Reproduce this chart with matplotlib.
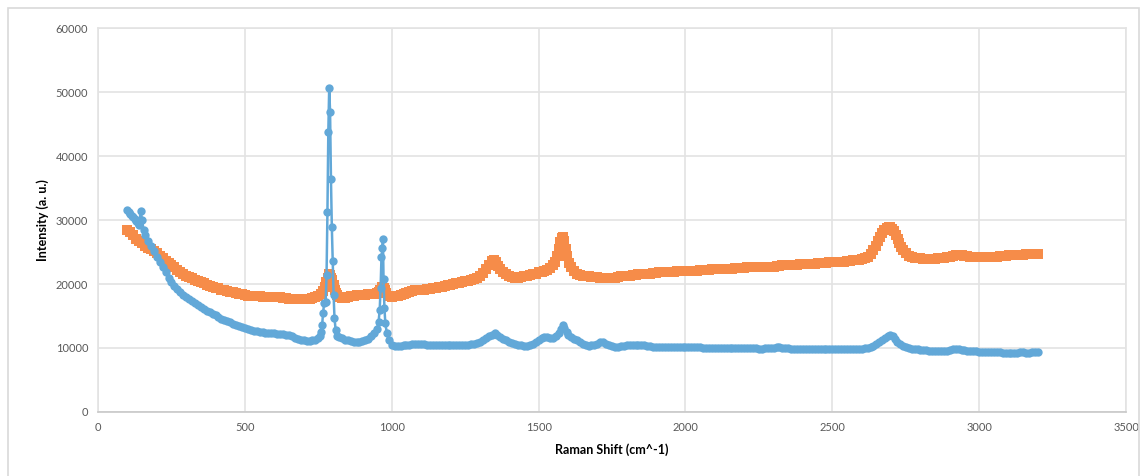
import matplotlib
matplotlib.use("Agg")
import matplotlib.pyplot as plt
from matplotlib.patches import Rectangle

plt.rcParams['font.family'] = ['Lato', 'DejaVu Sans']

# blue spectrum, (Raman shift, intensity)
blue_points = [
    (100, 31500), (105, 31200), (110, 31000), (115, 30700), (120, 30400), (125, 30100),
    (130, 29800), (135, 29500), (140, 29200), (145, 31400), (150, 30000), (155, 28400),
    (160, 27600), (170, 26800), (180, 25900), (190, 25100), (200, 24300), (210, 23400),
    (220, 22600), (230, 21800), (240, 21000), (250, 20300), (260, 19700), (270, 19200),
    (280, 18700), (290, 18300), (300, 18000), (310, 17600), (320, 17300), (330, 17000),
    (340, 16700), (350, 16400), (360, 16100), (370, 15800), (380, 15600), (390, 15300),
    (400, 15100), (410, 14800), (420, 14600), (430, 14400), (440, 14200), (450, 14000),
    (460, 13800), (470, 13600), (480, 13500), (490, 13300), (500, 13100), (510, 12900),
    (520, 12800), (530, 12700), (540, 12600), (550, 12500), (560, 12500), (570, 12400),
    (580, 12400), (590, 12300), (600, 12300), (610, 12200), (620, 12200), (630, 12200),
    (640, 12100), (650, 12000), (660, 11800), (670, 11600), (680, 11400), (690, 11300),
    (700, 11200), (710, 11100), (720, 11100), (730, 11200), (740, 11300), (750, 11500),
    (755, 11800), (760, 12500), (763, 13600), (766, 15400), (770, 17100), (775, 17200),
    (778, 21400), (781, 31200), (784, 43700), (787, 50700), (790, 46900), (793, 36400),
    (796, 28900), (799, 23600), (802, 18300), (805, 14700), (809, 12800), (815, 11900),
    (820, 11700), (830, 11500), (840, 11300), (850, 11200), (860, 11100), (870, 11000),
    (880, 11000), (890, 11000), (900, 11100), (910, 11200), (920, 11400), (930, 11800),
    (940, 12300), (950, 13000), (955, 14000), (959, 16000), (962, 19400), (965, 24200),
    (968, 25600), (970, 27100), (972, 20800), (975, 16300), (978, 13900), (983, 12400),
    (990, 11200), (1000, 10500), (1010, 10300), (1020, 10300), (1030, 10300), (1040, 10400),
    (1050, 10400), (1060, 10500), (1070, 10600), (1080, 10600), (1090, 10700), (1100, 10700),
    (1110, 10600), (1120, 10500), (1130, 10400), (1140, 10400), (1150, 10400), (1160, 10400),
    (1170, 10500), (1180, 10500), (1190, 10500), (1200, 10500), (1210, 10400), (1220, 10400),
    (1230, 10400), (1240, 10400), (1250, 10400), (1260, 10500), (1270, 10600), (1280, 10700),
    (1290, 10800), (1300, 11000), (1310, 11200), (1320, 11500), (1330, 11800), (1340, 12100),
    (1350, 12300), (1360, 12100), (1370, 11700), (1380, 11400), (1390, 11200), (1400, 11000),
    (1410, 10800), (1420, 10700), (1430, 10500), (1440, 10400), (1450, 10300), (1460, 10300),
    (1470, 10400), (1480, 10600), (1490, 10900), (1500, 11200), (1510, 11500), (1520, 11700),
    (1530, 11700), (1540, 11600), (1550, 11600), (1560, 11900), (1570, 12400), (1576, 13000),
    (1582, 13600), (1588, 13100), (1595, 12500), (1600, 12100), (1610, 11700), (1620, 11400),
    (1630, 11200), (1640, 10900), (1650, 10700), (1660, 10500), (1670, 10300), (1680, 10400),
    (1690, 10500), (1700, 10700), (1710, 10900), (1720, 10900), (1730, 10700), (1740, 10400),
    (1750, 10300), (1760, 10200), (1770, 10200), (1780, 10300), (1790, 10300), (1800, 10400),
    (1810, 10400), (1820, 10500), (1830, 10500), (1840, 10500), (1850, 10400), (1860, 10400),
    (1870, 10300), (1880, 10300), (1890, 10200), (1900, 10200), (1910, 10200), (1920, 10200),
    (1930, 10200), (1940, 10200), (1950, 10100), (1960, 10100), (1970, 10100), (1980, 10100),
    (1990, 10100), (2000, 10100), (2010, 10100), (2020, 10100), (2030, 10100), (2040, 10100),
    (2050, 10100), (2060, 10000), (2070, 10000), (2080, 10000), (2090, 10000), (2100, 10000),
    (2110, 10000), (2120, 10000), (2130, 10000), (2140, 10000), (2150, 10000), (2160, 10000),
    (2170, 10000), (2180, 10000), (2190, 10000), (2200, 10000), (2210, 10000), (2220, 10000),
    (2230, 10000), (2240, 10000), (2250, 9900), (2260, 9900), (2270, 10000), (2280, 10000),
    (2290, 10000), (2300, 10000), (2310, 10100), (2320, 10100), (2330, 10000), (2340, 10000),
    (2350, 10000), (2360, 9900), (2370, 9900), (2380, 9900), (2390, 9900), (2400, 9900),
    (2410, 9900), (2420, 9900), (2430, 9900), (2440, 9900), (2450, 9900), (2460, 9900),
    (2470, 9900), (2480, 9900), (2490, 9900), (2500, 9900), (2510, 9900), (2520, 9900),
    (2530, 9900), (2540, 9900), (2550, 9900), (2560, 9900), (2570, 9900), (2580, 9900),
    (2590, 9900), (2600, 9900), (2610, 10000), (2620, 10000), (2630, 10100), (2640, 10300),
    (2650, 10600), (2660, 10900), (2670, 11300), (2680, 11600), (2690, 11900), (2697, 12000),
    (2705, 11800), (2712, 11400), (2720, 11000), (2730, 10600), (2740, 10300), (2750, 10100),
    (2760, 10000), (2770, 9900), (2780, 9800), (2790, 9800), (2800, 9700), (2810, 9700),
    (2820, 9700), (2830, 9600), (2840, 9600), (2850, 9600), (2860, 9600), (2870, 9600),
    (2880, 9600), (2890, 9600), (2900, 9700), (2910, 9800), (2920, 9800), (2930, 9800),
    (2940, 9700), (2950, 9700), (2960, 9600), (2970, 9600), (2980, 9500), (2990, 9500),
    (3000, 9400), (3010, 9400), (3020, 9400), (3030, 9400), (3040, 9300), (3050, 9300),
    (3060, 9300), (3070, 9300), (3080, 9200), (3090, 9200), (3100, 9200), (3110, 9200),
    (3120, 9200), (3130, 9200), (3140, 9300), (3150, 9300), (3160, 9200), (3170, 9200),
    (3180, 9300), (3190, 9300), (3200, 9400),
]

# orange spectrum
orange_points = [
    (100, 28400), (110, 28200), (120, 27600), (130, 27100), (140, 26700), (150, 26400),
    (160, 26000), (170, 25700), (180, 25400), (190, 25100), (200, 24800), (210, 24400),
    (220, 24000), (230, 23600), (240, 23300), (250, 22900), (260, 22600), (270, 22200),
    (280, 21900), (290, 21600), (300, 21300), (310, 21100), (320, 20900), (330, 20700),
    (340, 20500), (350, 20300), (360, 20100), (370, 19900), (380, 19700), (390, 19500),
    (400, 19400), (410, 19300), (420, 19100), (430, 19000), (440, 18900), (450, 18800),
    (460, 18700), (470, 18600), (480, 18500), (490, 18400), (500, 18300), (510, 18200),
    (520, 18200), (530, 18100), (540, 18100), (550, 18100), (560, 18000), (570, 18000),
    (580, 18000), (590, 18000), (600, 18000), (610, 17900), (620, 17900), (630, 17800),
    (640, 17800), (650, 17700), (660, 17700), (670, 17600), (680, 17600), (690, 17600),
    (700, 17600), (710, 17700), (720, 17700), (730, 17800), (740, 17900), (750, 18100),
    (760, 18400), (766, 18900), (772, 19500), (777, 20300), (782, 21000), (786, 21500),
    (790, 21400), (794, 21000), (798, 20600), (802, 19800), (806, 19100), (810, 18600),
    (815, 18300), (820, 18000), (830, 17800), (840, 17800), (850, 17900), (860, 18100),
    (870, 18200), (880, 18300), (890, 18300), (900, 18300), (910, 18300), (920, 18400),
    (930, 18400), (940, 18500), (950, 18600), (955, 18800), (960, 19000), (966, 19500),
    (972, 19300), (977, 19000), (982, 18600), (990, 18200), (1000, 18000), (1010, 18100),
    (1020, 18200), (1030, 18300), (1040, 18500), (1050, 18600), (1060, 18800), (1070, 18900),
    (1080, 19000), (1090, 19000), (1100, 19100), (1110, 19100), (1120, 19200), (1130, 19200),
    (1140, 19300), (1150, 19400), (1160, 19500), (1170, 19600), (1180, 19700), (1190, 19800),
    (1200, 19900), (1210, 20000), (1220, 20100), (1230, 20200), (1240, 20300), (1250, 20400),
    (1260, 20500), (1270, 20600), (1280, 20800), (1290, 21000), (1300, 21300), (1310, 21700),
    (1320, 22300), (1330, 23000), (1340, 23600), (1347, 23800), (1355, 23400), (1362, 22800),
    (1370, 22300), (1380, 21800), (1390, 21500), (1400, 21200), (1410, 21100), (1420, 21000),
    (1430, 21000), (1440, 21100), (1450, 21200), (1460, 21300), (1470, 21400), (1480, 21500),
    (1490, 21600), (1500, 21800), (1510, 21900), (1520, 22100), (1530, 22200), (1540, 22500),
    (1550, 22900), (1557, 23500), (1563, 24400), (1568, 25500), (1573, 26500), (1578, 27200),
    (1583, 27300), (1588, 26700), (1593, 25500), (1598, 24400), (1604, 23300), (1610, 22600),
    (1620, 22000), (1630, 21600), (1640, 21400), (1650, 21300), (1660, 21200), (1670, 21200),
    (1680, 21100), (1690, 21100), (1700, 21100), (1710, 21000), (1720, 21000), (1730, 20900),
    (1740, 20900), (1750, 20900), (1760, 21000), (1770, 21100), (1780, 21200), (1790, 21200),
    (1800, 21300), (1810, 21300), (1820, 21400), (1830, 21400), (1840, 21500), (1850, 21500),
    (1860, 21600), (1870, 21600), (1880, 21600), (1890, 21700), (1900, 21700), (1910, 21800),
    (1920, 21800), (1930, 21800), (1940, 21900), (1950, 21900), (1960, 21900), (1970, 22000),
    (1980, 22000), (1990, 22000), (2000, 22000), (2010, 22100), (2020, 22100), (2030, 22100),
    (2040, 22100), (2050, 22200), (2060, 22200), (2070, 22200), (2080, 22200), (2090, 22300),
    (2100, 22300), (2110, 22300), (2120, 22300), (2130, 22400), (2140, 22400), (2150, 22400),
    (2160, 22400), (2170, 22500), (2180, 22500), (2190, 22500), (2200, 22500), (2210, 22600),
    (2220, 22600), (2230, 22600), (2240, 22600), (2250, 22600), (2260, 22600), (2270, 22700),
    (2280, 22700), (2290, 22700), (2300, 22700), (2310, 22800), (2320, 22800), (2330, 22900),
    (2340, 22900), (2350, 23000), (2360, 23000), (2370, 23000), (2380, 23000), (2390, 23100),
    (2400, 23100), (2410, 23200), (2420, 23200), (2430, 23200), (2440, 23200), (2450, 23300),
    (2460, 23300), (2470, 23300), (2480, 23300), (2490, 23400), (2500, 23400), (2510, 23400),
    (2520, 23400), (2530, 23500), (2540, 23500), (2550, 23600), (2560, 23600), (2570, 23700),
    (2580, 23700), (2590, 23800), (2600, 23900), (2610, 24100), (2620, 24300), (2630, 24700),
    (2640, 25300), (2648, 26000), (2655, 26700), (2662, 27400), (2670, 28000), (2677, 28500),
    (2685, 28800), (2692, 28900), (2698, 28900), (2704, 28600), (2710, 28300), (2716, 27700),
    (2722, 27000), (2728, 26400), (2735, 25800), (2742, 25300), (2750, 24800), (2760, 24400),
    (2770, 24200), (2780, 24100), (2790, 24000), (2800, 24000), (2810, 23900), (2820, 23900),
    (2830, 23900), (2840, 23900), (2850, 23900), (2860, 24000), (2870, 24000), (2880, 24100),
    (2890, 24200), (2900, 24300), (2910, 24400), (2920, 24500), (2930, 24500), (2940, 24500),
    (2950, 24400), (2960, 24400), (2970, 24300), (2980, 24300), (2990, 24300), (3000, 24300),
    (3010, 24300), (3020, 24300), (3030, 24300), (3040, 24300), (3050, 24300), (3060, 24300),
    (3070, 24400), (3080, 24400), (3090, 24400), (3100, 24500), (3110, 24500), (3120, 24500),
    (3130, 24600), (3140, 24600), (3150, 24600), (3160, 24700), (3170, 24700), (3180, 24700),
    (3190, 24700), (3200, 24700),
]

blue_x = [p[0] for p in blue_points]
blue_y = [p[1] for p in blue_points]
orange_x = [p[0] for p in orange_points]
orange_y = [p[1] for p in orange_points]

x_ticks = [0, 500, 1000, 1500, 2000, 2500, 3000, 3500]
y_ticks = [0, 10000, 20000, 30000, 40000, 50000, 60000]

fig = plt.figure(figsize=(11.44, 4.76), dpi=100)
ax = fig.add_axes([0.0857, 0.1345, 0.8986, 0.8065])

# chart area border
fig.patches.append(Rectangle((8 / 1144, -0.01), 1131 / 1144, 1 - 8 / 476 + 0.01,
                             transform=fig.transFigure, fill=False,
                             edgecolor='#d9d9d9', linewidth=1.2))

ax.plot(orange_x, orange_y, color='#f68c49', marker='s', markersize=6.5,
        linewidth=2, markeredgewidth=0)
ax.plot(blue_x, blue_y, color='#62a8d8', marker='o', markersize=6,
        linewidth=1.8, markeredgewidth=0)

ax.set_xlim(0, 3500)
ax.set_ylim(0, 60000)
ax.set_xticks(x_ticks)
ax.set_yticks(y_ticks)
ax.grid(True, color='#e3e3e3', linewidth=1.2)
ax.set_axisbelow(True)
ax.tick_params(length=0, labelsize=8, colors='#595959', pad=7)
for s in ['top', 'right', 'left']:
    ax.spines[s].set_color('#e3e3e3')
    ax.spines[s].set_linewidth(1.2)
ax.spines['bottom'].set_color('#c8c8c8')
ax.spines['bottom'].set_linewidth(1.2)

ax.set_xlabel('Raman Shift (cm^-1)', fontsize=9, fontweight='bold', labelpad=8)
ax.set_ylabel('Intensity (a. u.)', fontsize=9, fontweight='bold', labelpad=5)

fig.savefig('out.png', dpi=100)
